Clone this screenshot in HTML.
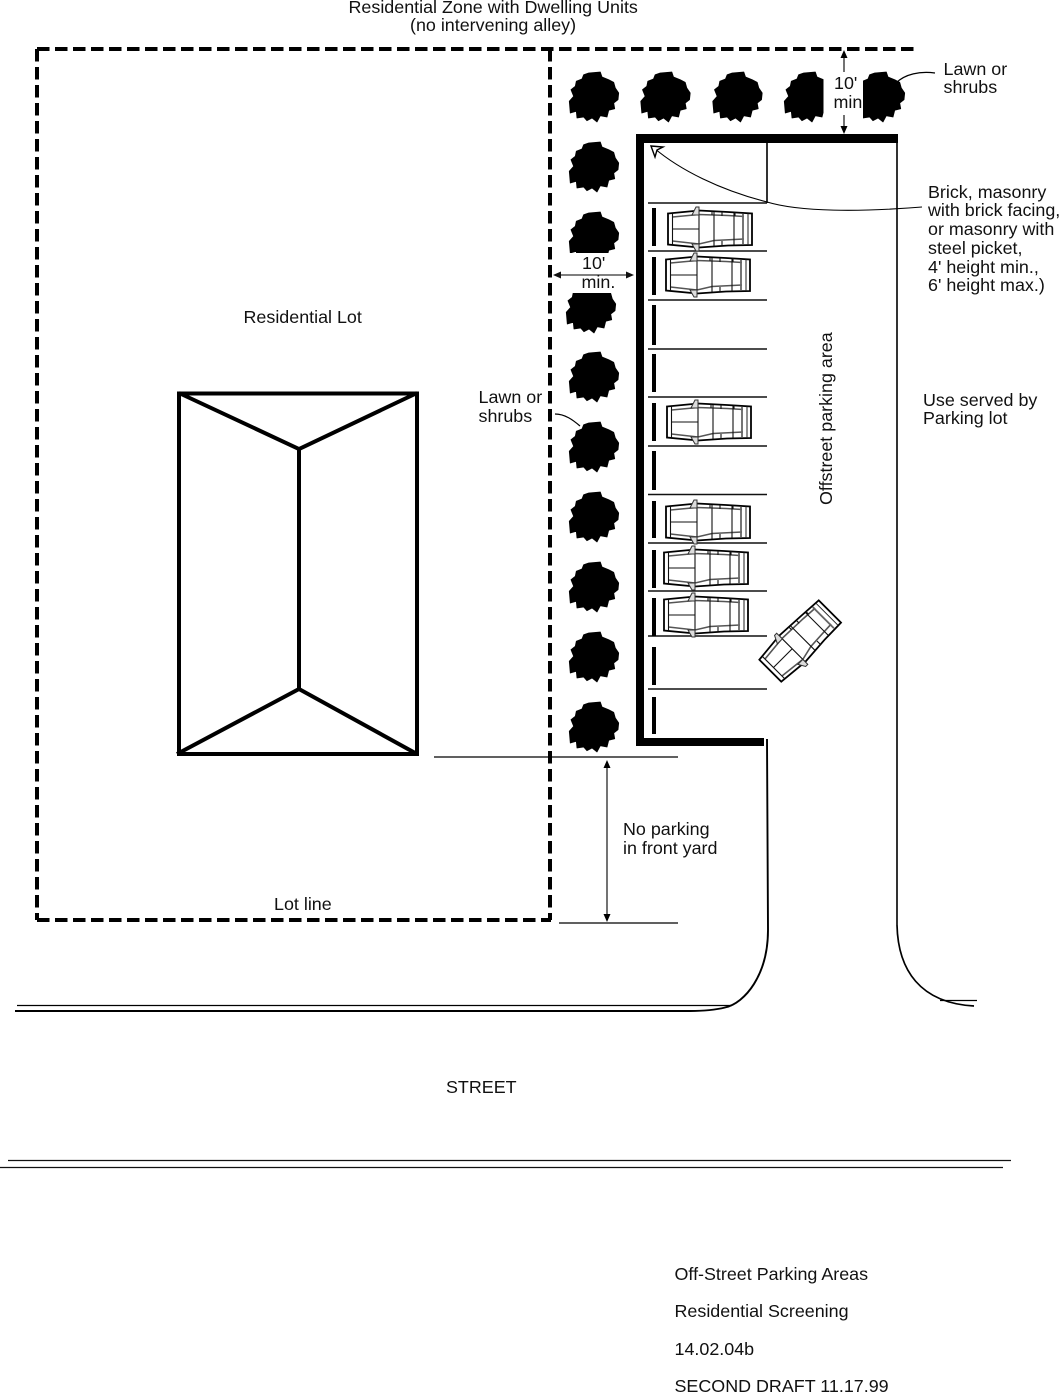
<!DOCTYPE html>
<html><head><meta charset="utf-8">
<style>html,body{margin:0;padding:0;background:#fff}svg{display:block}text{font-family:"Liberation Sans",Arial,sans-serif;font-size:17.9px;fill:#111}</style>
</head><body>
<svg xmlns="http://www.w3.org/2000/svg" xmlns:xlink="http://www.w3.org/1999/xlink" width="1059" height="1393" viewBox="0 0 1059 1393">
<defs>
<clipPath id="cT4"><rect x="-30" y="-30" width="44.500" height="60"/></clipPath>
<clipPath id="cT5"><rect x="-17" y="-30" width="60" height="60"/></clipPath>
<clipPath id="cB"><rect x="-30" y="-30" width="60" height="46"/></clipPath>
<clipPath id="cU"><rect x="-30" y="-15" width="60" height="50"/></clipPath>
<path id="tree" fill="#000" stroke="#000" stroke-width="0.8" stroke-linejoin="round" d="M-5.300,-24 L6.300,-25 L8,-20 L14.700,-17.300 L19.700,-14.700 L21.300,-9 L24.700,-4 L24,2.700 L19.700,6 L20.700,11.700 L14.700,13.300 L13,20 L6.300,18.700 L3,25 L-2,21 L-7,23.700 L-10.300,20 L-17,21 L-17.700,14.300 L-23.700,16 L-24.700,4.300 L-20.300,-0.700 L-23,-7.300 L-18.700,-10.700 L-17.700,-15.700 L-12,-18 L-10.300,-22.300 Z"/>
<g id="car" fill="none">
<path d="M0,1.500 L31,-1.500 L60,0 L84,1.500 L84,33 L60,33.500 L31,35.500 L0,32.500 Z" stroke="#000" stroke-width="1.8" fill="#fff"/>
<path d="M4.500,5 L31,2.500 L60,3.500 L76,4.500 M4.500,29 L31,32 L46,28.500 L76,27" stroke="#555" stroke-width="1.6"/>
<path d="M4.500,1.500 V32.500 M4.500,17 H31 M31,-1 V35 M46,0 V34 M66,1 V33 M44,-1 V3 M54,0 V4 M67,0 V4 M54,29 V34" stroke="#111" stroke-width="1.1"/>
<path d="M75,2 V32" stroke="#666" stroke-width="1.8"/>
<path d="M80,1.500 V33" stroke="#222" stroke-width="1"/>
<path d="M24,3 L28,-5 L31,-5 L31,3 Z M24,32 L28,39 L31,39 L31,32 Z" fill="#ddd" stroke="#333" stroke-width="1"/>
</g>
</defs>

<!-- lot line -->
<g stroke="#000" stroke-width="4" fill="none" stroke-dasharray="12.5 5.5">
<path d="M37,49 H915"/>
<path d="M37,49 V920"/>
<path d="M37,920 H551"/>
<path d="M550,49 V920"/>
</g>

<!-- trees -->
<use xlink:href="#tree" x="594" y="97"/>
<use xlink:href="#tree" x="665.500" y="97"/>
<use xlink:href="#tree" x="737.500" y="97"/>
<g transform="translate(809,97)"><use xlink:href="#tree" clip-path="url(#cT4)"/></g>
<g transform="translate(880,97)"><use xlink:href="#tree" clip-path="url(#cT5)"/></g>
<use xlink:href="#tree" x="594" y="167"/>
<g transform="translate(594,237)"><use xlink:href="#tree" clip-path="url(#cB)"/></g>
<g transform="translate(591,308)"><use xlink:href="#tree" clip-path="url(#cU)"/></g>
<use xlink:href="#tree" x="594" y="377"/>
<use xlink:href="#tree" x="594" y="447"/>
<use xlink:href="#tree" x="594" y="517"/>
<use xlink:href="#tree" x="594" y="587"/>
<use xlink:href="#tree" x="594" y="657"/>
<use xlink:href="#tree" x="594" y="727"/>

<!-- walls -->
<rect x="636" y="134" width="262" height="9" fill="#000"/>
<rect x="636" y="134" width="8" height="612" fill="#000"/>
<rect x="636" y="738" width="128" height="8" fill="#000"/>
<path d="M767,143 V203 M897,143 V925" stroke="#000" stroke-width="1.6" fill="none"/>

<!-- stall lines -->
<path d="M648,203H767M648,251H767M648,300H767M648,349H767M648,397H767M648,446H767M648,494.500H767M648,543H767M648,591H767M648,636H767M648,689H767" stroke="#111" stroke-width="1.5"/>
<path d="M654,208V246M654,257V295M654,305V345M654,354V392M654,403V441M654,451V490M654,501V538M654,550V588M654,598V636M654,647V685M654,697V734" stroke="#000" stroke-width="4"/>

<!-- cars -->
<use xlink:href="#car" x="668" y="212"/>
<use xlink:href="#car" x="666" y="258"/>
<use xlink:href="#car" x="667" y="405"/>
<use xlink:href="#car" x="666" y="505"/>
<use xlink:href="#car" x="664" y="551"/>
<use xlink:href="#car" x="664" y="598"/>
<g transform="translate(800,641) rotate(-45) translate(-42,-17)"><use xlink:href="#car"/></g>

<!-- house -->
<g stroke="#000" stroke-width="4" fill="none">
<rect x="179" y="393.500" width="238" height="360.500"/>
<path d="M179,393 L299,449 L417,393 M299,449 V689 M177,754 L299,689 L417,754"/>
</g>

<!-- roads -->
<path d="M17,1005.500 H732" stroke="#000" stroke-width="1.2" fill="none"/>
<path d="M15,1011 H690 C705,1011 715,1010 725,1007.500 C745,1003 768,975 768,930 L767,739" stroke="#000" stroke-width="1.9" fill="none"/>
<path d="M897,925 C898,970 920,1003 974,1006" stroke="#000" stroke-width="1.7" fill="none"/>
<path d="M940,1000.500 H977" stroke="#000" stroke-width="1.2" fill="none"/>
<path d="M8,1160.500 H1011 M0,1167.500 H1003" stroke="#111" stroke-width="1.2" fill="none"/>

<!-- dimensions -->
<path d="M434,757 H678 M559,923 H678" stroke="#000" stroke-width="1.2"/>
<path d="M607,762 V918" stroke="#000" stroke-width="1.1"/>
<path d="M607,760 L603.500,768 H610.500 Z M607,922 L603.500,914 H610.500 Z" fill="#000"/>
<path d="M844,54 V72 M844,115 V130" stroke="#000" stroke-width="1.1"/>
<path d="M844,50 L840.500,58 H847.500 Z M844,134 L840.500,126 H847.500 Z" fill="#000"/>
<path d="M556,275 H631" stroke="#555" stroke-width="1.5"/>
<path d="M553,275 L561,271.500 V278.500 Z M634,275 L626,271.500 V278.500 Z" fill="#111"/>

<!-- leaders -->
<path d="M922,207 C860,212 800,212 767,202 C720,190 680,170 654,148" stroke="#000" stroke-width="1.1" fill="none"/>
<path d="M651,146 L663,147 L657,150 L655,157 Z" fill="#fff" stroke="#000" stroke-width="1.4"/>
<path d="M935,73 C920,71 905,74 896,83" stroke="#000" stroke-width="1.2" fill="none"/>
<path d="M555,414 C565,414 573,420 580,426" stroke="#000" stroke-width="1.2" fill="none"/>

<!-- labels -->
<text x="348.500" y="13">Residential Zone with Dwelling Units</text>
<text x="410" y="31">(no intervening alley)</text>
<text x="943.500" y="75">Lawn or</text>
<text x="943.500" y="93">shrubs</text>
<text x="834" y="89">10'</text>
<text x="833.500" y="108">min</text>
<text x="582" y="269">10'</text>
<text x="581.500" y="288">min.</text>
<text x="928" y="198">Brick, masonry</text>
<text x="928" y="216">with brick facing,</text>
<text x="928" y="235">or masonry with</text>
<text x="928" y="254">steel picket,</text>
<text x="928" y="273">4' height min.,</text>
<text x="928" y="291">6' height max.)</text>
<text x="243.500" y="323">Residential Lot</text>
<text x="478.500" y="403">Lawn or</text>
<text x="478.500" y="422">shrubs</text>
<text x="923" y="406">Use served by</text>
<text x="923" y="424">Parking lot</text>
<text transform="translate(832,505) rotate(-90)" x="0" y="0">Offstreet parking area</text>
<text x="623" y="835">No parking</text>
<text x="623" y="854">in front yard</text>
<text x="274" y="910">Lot line</text>
<text x="446" y="1093">STREET</text>
<text x="674.500" y="1280">Off-Street Parking Areas</text>
<text x="674.500" y="1317">Residential Screening</text>
<text x="674.500" y="1355">14.02.04b</text>
<text x="674.500" y="1392">SECOND DRAFT 11.17.99</text>
</svg>
</body></html>
